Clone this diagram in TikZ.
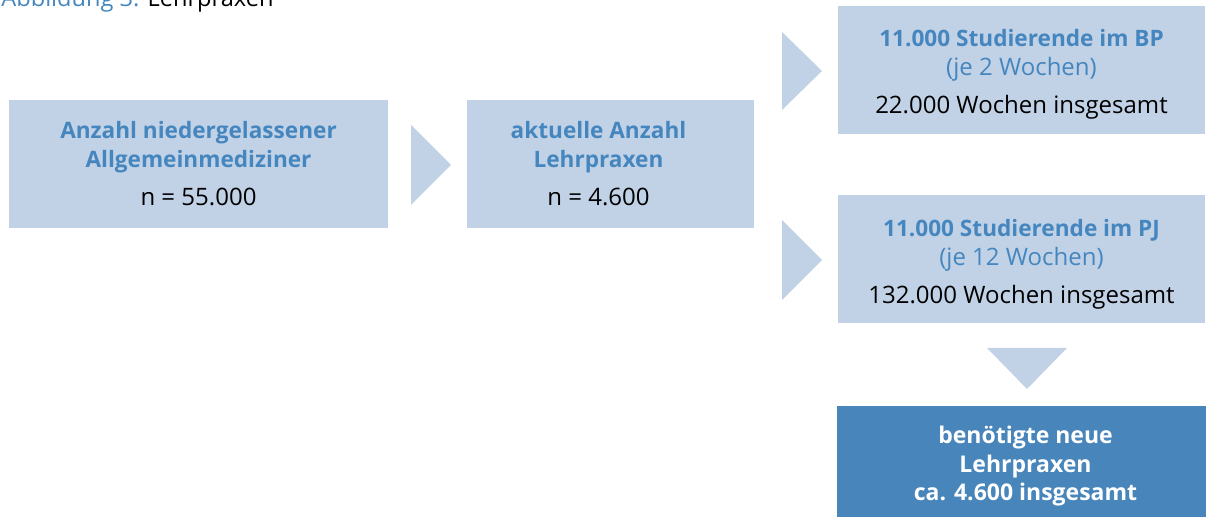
\documentclass[tikz,border=0pt]{standalone}
\usepackage{fontspec}
\setmainfont{Open Sans}
\usetikzlibrary{positioning}
\usepackage{xcolor}
\definecolor{hellblau}{HTML}{C1D2E7}
\definecolor{textblau}{HTML}{4586BE}
\definecolor{dunkelblau}{HTML}{4785BA}
\newcommand{\kopf}[1]{{\fontsize{11.3}{14.5}\selectfont\bfseries #1}}
\newcommand{\zahl}[1]{{\fontsize{12}{14.5}\selectfont #1}}

\begin{document}
\begin{tikzpicture}[x=0.5pt, y=-0.5pt, every node/.style={font=\fontsize{12}{14.5}\selectfont}]
    % Stile fuer Kaesten
    \tikzstyle{kasten}=[rectangle, fill=hellblau, inner sep=0pt, minimum height=64pt]
    \tikzstyle{kastentext}=[align=center, text=textblau, inner sep=0pt]
    \tikzstyle{ergebnis}=[rectangle, fill=dunkelblau, inner sep=0pt, minimum height=55.5pt]
    \tikzstyle{ergebnistext}=[align=center, text=white, inner sep=0pt, font=\fontsize{11.5}{14.25}\selectfont\bfseries]
    \tikzstyle{pfeil}=[fill=hellblau]

    \useasboundingbox (0,0) rectangle (1206,517);

    % Titel (oben abgeschnitten)
    \node[anchor=base west, inner sep=0pt, font=\fontsize{11.8}{13}\selectfont] (titel) at (1,7) {\textcolor{textblau}{Abbildung 3:} Lehrpraxen};

    % Kaesten links
    \node[kasten, minimum width=189.5pt] (aerzte) at (198.5,164) {};
    \node[kastentext] (aerzte-text) at (aerzte.center) {\kopf{Anzahl niedergelassener}\\ \kopf{Allgemeinmediziner}\\[4.5pt] \textcolor{black}{\zahl{n = 55.000}}};

    \node[kasten, minimum width=143.5pt] (praxen) at (610.5,164) {};
    \node[kastentext] (praxen-text) at ([xshift=-6pt]praxen.center) {\kopf{aktuelle Anzahl}\\ \kopf{Lehrpraxen}\\[4.5pt] \textcolor{black}{\zahl{n = 4.600}}};

    % Kaesten rechts
    \node[kasten, minimum width=183.5pt] (bp) at (1021.5,70) {};
    \node[kastentext] (bp-text) at ([yshift=-2pt]bp.center) {\kopf{11.000 Studierende im BP}\\ \zahl{(je 2 Wochen)}\\[4.5pt] \textcolor{black}{\zahl{22.000 Wochen insgesamt}}};

    \node[kasten, minimum width=183.5pt] (pj) at (1021.5,259) {};
    \node[kastentext] (pj-text) at ([yshift=-2.5pt]pj.center) {\kopf{11.000 Studierende im PJ}\\ \zahl{(je 12 Wochen)}\\[4.5pt] \textcolor{black}{\zahl{132.000 Wochen insgesamt}}};

    \node[ergebnis, minimum width=184.5pt] (neu) at (1021.5,461.5) {};
    \node[ergebnistext] (neu-text) at ([xshift=2pt, yshift=-2.5pt]neu.center) {benötigte neue\\ Lehrpraxen\\ ca. 4.600 insgesamt};

    % Pfeile
    \fill[pfeil] (411,125) -- (451,165) -- (411,205) -- cycle;
    \fill[pfeil] (782,32) -- (822,71) -- (782,110) -- cycle;
    \fill[pfeil] (782,220) -- (822,260) -- (782,300) -- cycle;
    \fill[pfeil] (987,348) -- (1067,348) -- (1027,389) -- cycle;
\end{tikzpicture}
\end{document}
